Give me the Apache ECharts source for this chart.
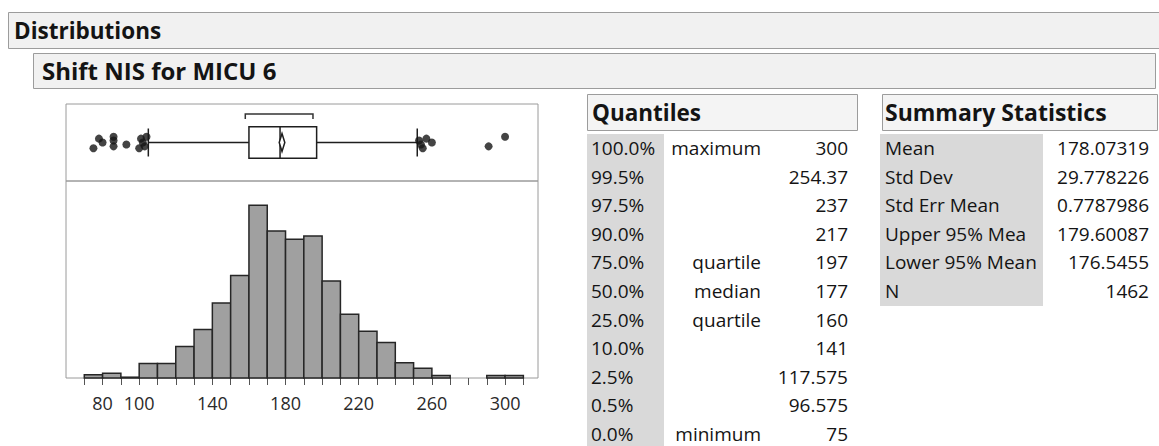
<!DOCTYPE html>
<html>
<head>
<meta charset="utf-8">
<script src="https://cdn.jsdelivr.net/npm/echarts@6/dist/echarts.min.js"></script>
<style>
  html, body { margin: 0; padding: 0; background: #ffffff; }
  #chart { width: 1159px; height: 446px; }
</style>
</head>
<body>
<div id="chart"></div>
<script>
// ---------------- data ----------------
const panelTitle = 'Distributions';
const variableTitle = 'Shift NIS for MICU 6';

// histogram: bin start values (bin width 10) and counts
const binWidth = 10;
const binStarts = [70, 80, 90, 100, 110, 120, 130, 140, 150, 160, 170, 180, 190, 200, 210, 220, 230, 240, 250, 260, 270, 280, 290, 300];
const binCounts = [4, 6, 1, 18, 18, 39, 60, 93, 127, 214, 182, 172, 176, 120, 79, 58, 44, 19, 12, 3, 0, 0, 3, 3];

// x axis tick labels
const xTickLabels = [80, 100, 140, 180, 220, 260, 300];

// outlier box plot
const boxQuartiles = [160, 177, 197];      // Q1, median, Q3
const boxWhiskers = [105, 252];            // whisker ends
const shortestHalf = [158, 195];           // shortest half bracket
const lowOutliers = [75, 78, 80, 86, 86, 86, 93, 100, 101, 102, 103, 104];
const highOutliers = [253, 254, 255, 257, 260, 291, 300];

// Quantiles table
const quantilePcts = ['100.0%', '99.5%', '97.5%', '90.0%', '75.0%', '50.0%', '25.0%', '10.0%', '2.5%', '0.5%', '0.0%'];
const quantileNames = ['maximum', '', '', '', 'quartile', 'median', 'quartile', '', '', '', 'minimum'];
const quantileValues = ['300', '254.37', '237', '217', '197', '177', '160', '141', '117.575', '96.575', '75'];

// Summary Statistics table
const summaryLabels = ['Mean', 'Std Dev', 'Std Err Mean', 'Upper 95% Mea', 'Lower 95% Mean', 'N'];
const summaryValues = ['178.07319', '29.778226', '0.7787986', '179.60087', '176.5455', '1462'];

// ---------------- chart ----------------
const FONT = "'Open Sans', 'Noto Sans', sans-serif";
const chart = echarts.init(document.getElementById('chart'), null, { renderer: 'svg' });

const xMin = 60, xMax = 318;
const tickValues = binStarts.concat([binStarts[binStarts.length - 1] + binWidth]);

const histData = binStarts.map((s, i) => [s, binCounts[i]]);
const outliers = lowOutliers.concat(highOutliers);
const outlierData = outliers.map((v, i) => [v, (((i * 5) % 7) - 3) * 0.05]);

const mean = Number(summaryValues[0]);
const upper95 = Number(summaryValues[3]);
const lower95 = Number(summaryValues[4]);

const boxData = [[boxQuartiles[0], boxQuartiles[1], boxQuartiles[2], boxWhiskers[0], boxWhiskers[1],
  mean, lower95, upper95, shortestHalf[0], shortestHalf[1]]];

// ---------- graphic (headers & tables) ----------
const graphics = [];
const rowY0 = 148, rowStep = 28.6;
function txt(x, y, text, opts) {
  graphics.push({
    type: 'text', x: x, y: y, silent: true,
    style: Object.assign({
      text: text, fill: '#141414', font: '19px ' + FONT,
      textAlign: 'left', textVerticalAlign: 'middle'
    }, opts || {})
  });
}
function box(x, y, w, h, fill, stroke) {
  graphics.push({
    type: 'rect', silent: true, z: -1,
    shape: { x: x, y: y, width: w, height: h },
    style: { fill: fill, stroke: stroke || null, lineWidth: 1 }
  });
}
// title bands
box(8.5, 12.5, 1160, 36, '#f1f1f1', '#9c9c9c');
txt(14, 30, panelTitle, { font: 'bold 22.5px ' + FONT });
box(33.5, 53.5, 1122, 35, '#f1f1f1', '#9c9c9c');
txt(42, 70, variableTitle, { font: 'bold 24px ' + FONT });

// Quantiles
box(587.5, 94.5, 270, 36, '#f4f4f4', '#9c9c9c');
txt(592, 112, 'Quantiles', { font: 'bold 22.5px ' + FONT });
box(587, 134, 77, 312, '#d9d9d9', null);
quantilePcts.forEach((p, i) => {
  const y = rowY0 + i * rowStep;
  txt(591, y, p);
  if (quantileNames[i]) txt(761, y, quantileNames[i], { textAlign: 'right' });
  txt(848, y, quantileValues[i], { textAlign: 'right' });
});

// Summary Statistics
box(882.5, 94.5, 275, 36, '#f4f4f4', '#9c9c9c');
txt(885, 112, 'Summary Statistics', { font: 'bold 23px ' + FONT });
box(880, 134, 163, 172, '#d9d9d9', null);
summaryLabels.forEach((l, i) => {
  const y = rowY0 + i * rowStep;
  txt(885, y, l);
  txt(1149, y, summaryValues[i], { textAlign: 'right' });
});

const option = {
  animation: false,
  backgroundColor: '#ffffff',
  textStyle: { fontFamily: FONT },
  grid: [
    { left: 66, top: 104, width: 472, height: 77, show: true, borderColor: '#9a9a9a', borderWidth: 1, backgroundColor: 'transparent' },
    { left: 66, top: 181, width: 472, height: 197, show: true, borderColor: '#9a9a9a', borderWidth: 1, backgroundColor: 'transparent' }
  ],
  xAxis: [
    { type: 'value', gridIndex: 0, min: xMin, max: xMax, show: false },
    {
      type: 'value', gridIndex: 1, min: xMin, max: xMax,
      axisLine: { show: false },
      splitLine: { show: false },
      axisTick: { show: true, length: 7, lineStyle: { color: '#555', width: 1 }, customValues: tickValues },
      axisLabel: { show: true, customValues: xTickLabels, fontSize: 18, color: '#2a2a2a', margin: 16, fontFamily: FONT }
    }
  ],
  yAxis: [
    { type: 'value', gridIndex: 0, min: -1, max: 1, show: false },
    { type: 'value', gridIndex: 1, min: 0, max: 244, show: false }
  ],
  graphic: { elements: graphics },
  series: [
    {
      type: 'custom', name: 'histogram', xAxisIndex: 1, yAxisIndex: 1,
      data: histData, encode: { x: [0], y: [1] },
      renderItem: function (params, api) {
        const s = api.value(0), c = api.value(1);
        if (!(c > 0)) return null;
        const p0 = api.coord([s, c]);
        const p1 = api.coord([s + binWidth, 0]);
        return {
          type: 'rect',
          shape: { x: p0[0], y: p0[1], width: p1[0] - p0[0], height: p1[1] - p0[1] },
          style: { fill: '#a0a0a0', stroke: '#262626', lineWidth: 1.5 }
        };
      }
    },
    {
      type: 'custom', name: 'boxplot', xAxisIndex: 0, yAxisIndex: 0,
      data: boxData, encode: { x: [0, 1, 2, 3, 4], y: [] },
      renderItem: function (params, api) {
        const X = v => api.coord([api.value(v), 0])[0];
        const cy = api.coord([api.value(1), 0])[1];
        const q1 = X(0), md = X(1), q3 = X(2), wl = X(3), wh = X(4);
        const mn = X(5), lo = X(6), hi = X(7), s0 = X(8), s1 = X(9);
        const stroke = { stroke: '#1e1e1e', lineWidth: 1.5, fill: null };
        const bh = 15.8, ch = 14, dh = 9, by = cy - 28.5;
        return {
          type: 'group',
          children: [
            { type: 'line', shape: { x1: wl, y1: cy, x2: q1, y2: cy }, style: stroke },
            { type: 'line', shape: { x1: q3, y1: cy, x2: wh, y2: cy }, style: stroke },
            { type: 'line', shape: { x1: wl, y1: cy - ch, x2: wl, y2: cy + ch }, style: stroke },
            { type: 'line', shape: { x1: wh, y1: cy - ch, x2: wh, y2: cy + ch }, style: stroke },
            { type: 'rect', shape: { x: q1, y: cy - bh, width: q3 - q1, height: 2 * bh }, style: { stroke: '#1e1e1e', lineWidth: 1.5, fill: '#ffffff' } },
            { type: 'line', shape: { x1: md, y1: cy - bh, x2: md, y2: cy + bh }, style: stroke },
            { type: 'polygon', shape: { points: [[lo, cy], [mn, cy - dh], [hi, cy], [mn, cy + dh]] }, style: { stroke: '#1e1e1e', lineWidth: 1.5, fill: '#ffffff' } },
            { type: 'polyline', shape: { points: [[s0, by + 5], [s0, by], [s1, by], [s1, by + 5]] }, style: { stroke: '#333', lineWidth: 1.5, fill: null } }
          ]
        };
      }
    },
    {
      type: 'scatter', name: 'outliers', xAxisIndex: 0, yAxisIndex: 0,
      data: outlierData, symbol: 'circle', symbolSize: 8,
      itemStyle: { color: '#151515' }, z: 5
    }
  ]
};
chart.setOption(option);
</script>
</body>
</html>
